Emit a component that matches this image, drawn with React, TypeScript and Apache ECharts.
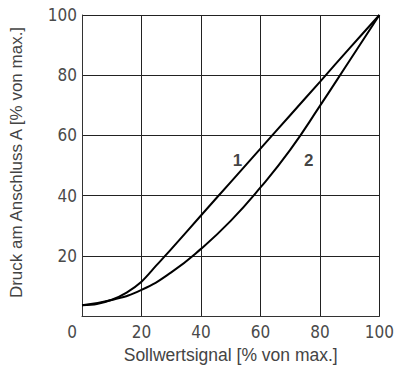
import React, { useEffect, useRef } from "react";
import * as echarts from "echarts";

const xTicks = [0, 20, 40, 60, 80, 100];
const curve1X = [0, 5, 10, 15, 20, 25, 30, 40, 50, 60, 70, 80, 90, 100];
const curve1Y = [3.6, 4.0, 5.4, 7.8, 11.4, 16.8, 22.2, 33.4, 44.5, 55.6, 66.7, 77.8, 89, 100];
const curve2X = [0, 10, 20, 30, 40, 50, 60, 70, 80, 90, 100];
const curve2Y = [3.6, 5.3, 8.7, 14.5, 22.3, 31.6, 42.7, 55.2, 69.8, 84.9, 100];
const labels = [
  { name: "1", x: 52.3, y: 51.5 },
  { name: "2", x: 76.2, y: 51.5 },
];

const tickFont = "'Liberation Sans Narrow', 'DejaVu Sans Condensed', sans-serif";
const tickColor = "#4a4a4a";

export default function App() {
  const ref = useRef<HTMLDivElement>(null);
  useEffect(() => {
    const chart = echarts.init(ref.current!, null, { renderer: "svg" });
    const axisLine = { show: true, lineStyle: { color: "#333", width: 1 } };
    chart.setOption({
      animation: false,
      grid: { left: 81, top: 15, width: 302, height: 302, show: false },
      xAxis: {
        type: "value",
        min: 0,
        max: 100,
        interval: 20,
        name: "Sollwertsignal [% von max.]",
        nameLocation: "middle",
        nameGap: 30,
        nameTextStyle: { fontFamily: "Liberation Sans", fontSize: 17.5, color: "#444" },
        axisLine,
        axisTick: { show: false },
        splitLine: { show: true, lineStyle: { color: "#222", width: 1 } },
        axisLabel: {
          margin: 7,
          fontFamily: tickFont,
          fontSize: 17,
          color: tickColor,
          formatter: (v: number) => (v === 0 ? "{z|0}" : String(v)),
          rich: { z: { fontFamily: tickFont, fontSize: 17, color: tickColor, padding: [0, 20, 0, 0] } },
        },
      },
      yAxis: {
        type: "value",
        min: 0,
        max: 100,
        interval: 20,
        name: "Druck am Anschluss A [% von max.]",
        nameLocation: "middle",
        nameGap: 57,
        nameTextStyle: { fontFamily: "Liberation Sans", fontSize: 17, color: "#444", padding: [0, 0, 0, 6] },
        axisLine,
        axisTick: { show: false },
        splitLine: { show: true, lineStyle: { color: "#222", width: 1 } },
        axisLabel: {
          margin: 5,
          fontFamily: tickFont,
          fontSize: 17,
          color: tickColor,
          formatter: (v: number) => (v === 0 ? "" : String(v)),
        },
      },
      series: [
        {
          type: "line",
          data: curve1X.map((x, i) => [x, curve1Y[i]]),
          smooth: 0.3,
          showSymbol: false,
          lineStyle: { color: "#000", width: 2 },
        },
        {
          type: "line",
          data: curve2X.map((x, i) => [x, curve2Y[i]]),
          smooth: 0.5,
          showSymbol: false,
          lineStyle: { color: "#000", width: 2 },
        },
        {
          type: "scatter",
          data: labels.map((l) => ({ value: [l.x, l.y], name: l.name })),
          symbolSize: 0,
          label: {
            show: true,
            position: "inside",
            formatter: (p: any) => p.name,
            fontFamily: "Liberation Sans",
            fontWeight: "bold",
            fontSize: 17,
            color: "#111",
          },
        },
      ],
    });
    return () => chart.dispose();
  }, []);
  return (
    <div
      ref={ref}
      style={{ position: "absolute", left: 0, top: 0, width: 397, height: 369, background: "#fff" }}
    />
  );
}
